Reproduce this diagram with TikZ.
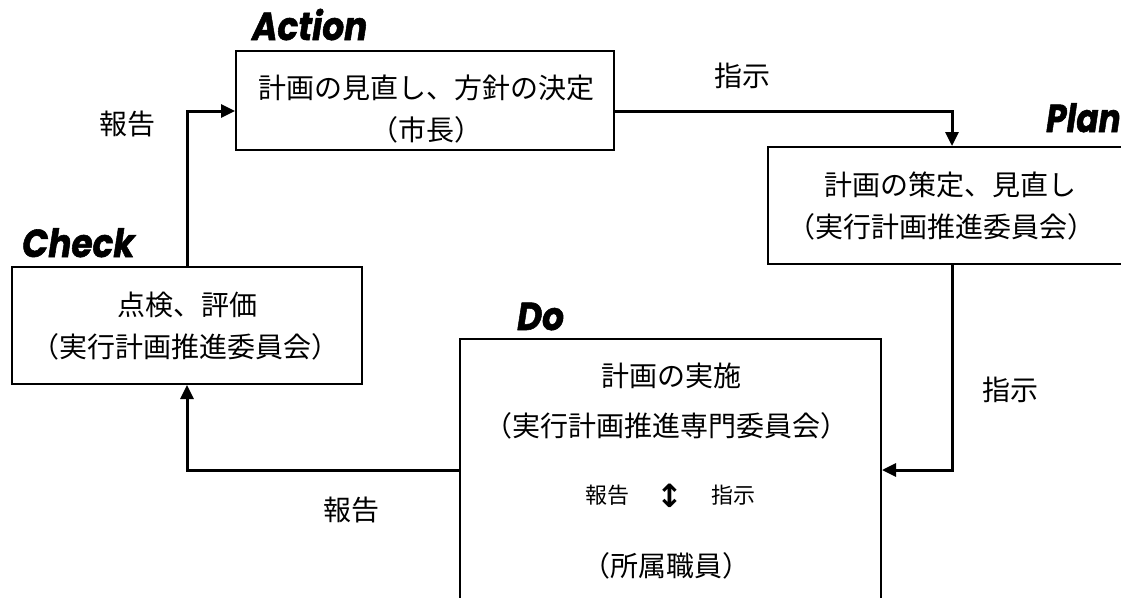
\documentclass[tikz,border=0pt]{standalone}
\usepackage{fontspec}
\setmainfont{Noto Sans CJK JP}
\newfontfamily\ttlfont{Poppins}[BoldItalicFeatures={FakeBold=1.5}]
\newfontfamily\symfont{DejaVu Sans}
\usetikzlibrary{arrows.meta}
\tikzset{
  box/.style={draw=black, line width=2pt, fill=none, inner sep=0pt},
  txt/.style={inner sep=0pt, font=\fontsize{28}{30}\selectfont},
  small/.style={inner sep=0pt, font=\fontsize{22}{24}\selectfont},
  ttl/.style={inner sep=0pt, anchor=base west, font=\ttlfont\bfseries\itshape\fontsize{39}{40}\selectfont},
  conn/.style={line width=3pt, -{Triangle[length=14pt,width=13pt]}},
}
\begin{document}
\begin{tikzpicture}[x=1pt,y=-1pt]
\useasboundingbox (0,0) rectangle (1121,597);
\fill[white] (0,0) rectangle (1121,597);
\clip (0,0) rectangle (1121,597);

% boxes
\node[box, minimum width=378pt, minimum height=99pt] (act) at (425,100.5) {};
\node[box, minimum width=368pt, minimum height=117pt] (plan) at (952,205.5) {};
\node[box, minimum width=350pt, minimum height=117pt] (chk) at (187,325.5) {};
\node[box, minimum width=421pt, minimum height=301pt] (do) at (670.5,489.5) {};

% titles
\node[ttl] (tAct) at (252,40) {\scalebox{0.88}[1]{Action}};
\node[ttl] (tPlan) at (1046,132) {\scalebox{0.84}[1]{Plan}};
\node[ttl] (tChk) at (22,257) {\scalebox{0.88}[1]{Check}};
\node[ttl] (tDo) at (517,330) {\scalebox{0.88}[1]{Do}};

% box texts
\node[txt] (a1) at (426,88) {計画の見直し、方針の決定};
\node[txt] (a2) at (426,130) {（市長）};
\node[txt] (p1) at (950,185) {計画の策定、見直し};
\node[txt] (p2) at (941,227) {（実行計画推進委員会）};
\node[txt] (c1) at (187,305) {点検、評価};
\node[txt] (c2) at (185.5,347) {（実行計画推進委員会）};
\node[txt] (d1) at (671,376) {計画の実施};
\node[txt] (d2) at (666.5,426) {（実行計画推進専門委員会）};
\node[small] (d3a) at (607,495) {報告};
\node[inner sep=0pt, font=\symfont\bfseries\fontsize{32}{34}\selectfont] (d3b) at (670,496) {↕};
\node[small] (d3c) at (733,495) {指示};
\node[txt] (d4) at (666,566) {（所属職員）};

% connectors
\coordinate (yA) at (0,111);
\coordinate (yD) at (0,470);
\draw[conn] (chk.north) |- (act.west |- yA);
\draw[conn] (act.east |- yA) -| (plan.north);
\draw[conn] (plan.south) |- (do.east |- yD);
\draw[conn] (do.west |- yD) -| (chk.south);

% connector labels
\node[txt] (l1) at (127,124) {報告};
\node[txt] (l2) at (742,76) {指示};
\node[txt] (l3) at (1010,390) {指示};
\node[txt] (l4) at (351,510) {報告};
\end{tikzpicture}
\end{document}
